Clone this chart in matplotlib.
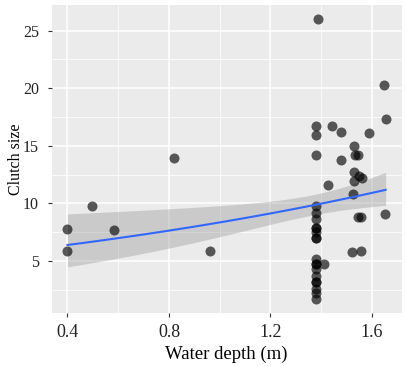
import numpy as np
import matplotlib
matplotlib.use("Agg")
import matplotlib.pyplot as plt
from matplotlib.ticker import MultipleLocator

# Data (overlapping points at 1.38 listed more than once)
water_depth = [0.40, 0.40, 0.495, 0.583, 0.82, 0.96,
               1.387,
               1.649, 1.654,
               1.38, 1.38, 1.444, 1.48, 1.59, 1.53,
               1.38, 1.48, 1.533, 1.545,
               1.53, 1.55, 1.53, 1.56,
               1.425, 1.527, 1.65, 1.545, 1.555, 1.52, 1.557,
               1.38, 1.38, 1.38, 1.38, 1.38, 1.38, 1.38,
               1.38, 1.38, 1.38, 1.38, 1.38, 1.38, 1.38, 1.41,
               1.38, 1.38, 1.38, 1.38]
clutch_size = [7.8, 5.9, 9.8, 7.7, 13.9, 5.9,
               26.0,
               20.3, 17.3,
               16.7, 15.9, 16.7, 16.2, 16.1, 15.0,
               14.2, 13.8, 14.2, 14.2,
               12.7, 12.4, 11.9, 12.2,
               11.6, 10.8, 9.05, 8.8, 8.8, 5.75, 5.9,
               9.8, 9.2, 8.6, 7.9, 7.5, 7.0, 5.2,
               4.7, 4.3, 3.7, 3.2, 2.6, 2.2, 1.7, 4.7,
               7.0, 7.9, 3.2, 4.7]
x_ticks = [0.4, 0.8, 1.2, 1.6]
y_ticks = [5, 10, 15, 20, 25]
x_label = "Water depth (m)"
y_label = "Clutch size"

x = np.array(water_depth)
y = np.array(clutch_size)

# Poisson GLM (log link) fitted by IRLS, like geom_smooth(method="glm", family=poisson)
X = np.column_stack([np.ones_like(x), x])
beta = np.array([np.log(y.mean()), 0.0])
for _ in range(50):
    eta = X @ beta
    mu = np.exp(eta)
    z = eta + (y - mu) / mu
    XtW = X.T * mu
    beta_new = np.linalg.solve(XtW @ X, XtW @ z)
    if np.max(np.abs(beta_new - beta)) < 1e-10:
        beta = beta_new
        break
    beta = beta_new
mu = np.exp(X @ beta)
cov = np.linalg.inv((X.T * mu) @ X)

xs = np.linspace(x.min(), x.max(), 80)
Xs = np.column_stack([np.ones_like(xs), xs])
eta_s = Xs @ beta
se_s = np.sqrt(np.einsum('ij,jk,ik->i', Xs, cov, Xs))
zval = 1.959964
ys = np.exp(eta_s)
lo = np.exp(eta_s - zval * se_s)
hi = np.exp(eta_s + zval * se_s)

plt.rcParams['font.family'] = ['Liberation Serif', 'DejaVu Serif']

fig = plt.figure(figsize=(4.06, 3.66), dpi=100)
ax = fig.add_axes([0.127, 0.145, 0.862, 0.841])
ax.set_facecolor('#EBEBEB')
for sp in ax.spines.values():
    sp.set_visible(False)

ax.fill_between(xs, lo, hi, color='#999999', alpha=0.4, lw=0, zorder=2)
ax.scatter(x, y, s=52, color='black', alpha=0.64, lw=0, zorder=3)
ax.plot(xs, ys, color='#3366FF', lw=1.5, zorder=4)

xr = x.max() - x.min()
yr = y.max() - y.min()
ax.set_xlim(x.min() - 0.05 * xr, x.max() + 0.05 * xr)
ax.set_ylim(y.min() - 0.05 * yr, y.max() + 0.05 * yr)

ax.set_xticks(x_ticks)
ax.set_yticks(y_ticks)
ax.set_xticklabels([f"{v:.1f}" for v in x_ticks])
ax.xaxis.set_minor_locator(MultipleLocator(0.2))
ax.yaxis.set_minor_locator(MultipleLocator(2.5))
ax.grid(True, which='major', color='white', lw=1.1, zorder=1)
ax.grid(True, which='minor', color='white', lw=0.55, zorder=1)
ax.set_axisbelow(True)
ax.tick_params(which='major', length=3, width=0.8, color='#333333',
               labelcolor='#222222')
ax.tick_params(axis='y', labelsize=11.5, pad=6)
ax.tick_params(axis='x', labelsize=13, pad=5)
ax.tick_params(which='minor', length=0)

ax.set_xlabel(x_label, fontsize=13.5, color='black', labelpad=3)
ax.set_ylabel(y_label, fontsize=11.5, color='black', labelpad=-1)

fig.savefig('out.png', dpi=100)
